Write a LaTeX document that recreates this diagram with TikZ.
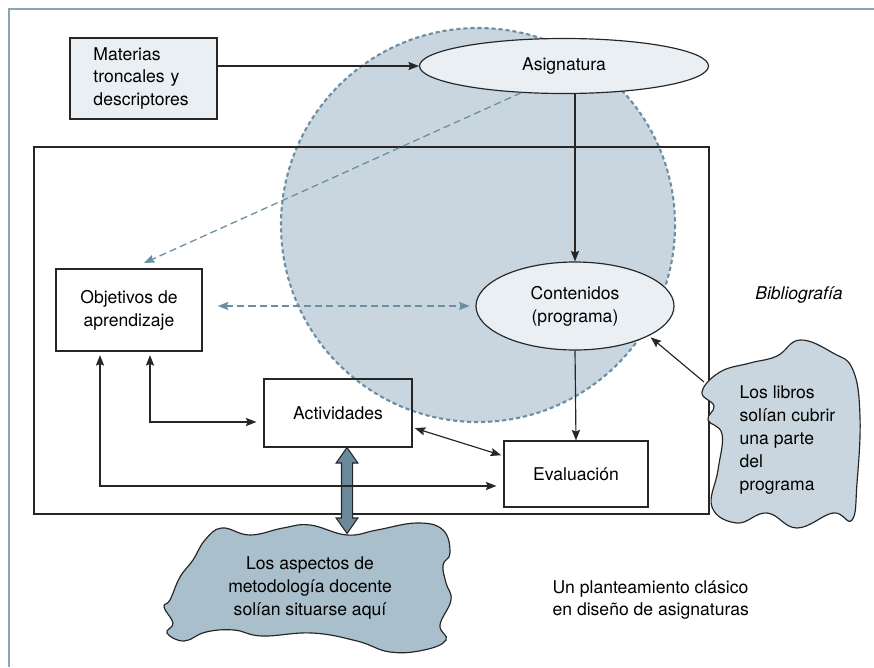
\documentclass[tikz,border=0pt]{standalone}
\usepackage{fontspec}
\setmainfont{TeX Gyre Heros}
\usepackage{tikz}
\usetikzlibrary{arrows.meta}
\usetikzlibrary{positioning}
\usetikzlibrary{shapes.geometric}
\usetikzlibrary{shapes.arrows}
\definecolor{frameblue}{HTML}{8AA5B5}
\definecolor{dashblue}{HTML}{6B8FA2}
\definecolor{circfill}{HTML}{C9D6DF}
\definecolor{paleblue}{HTML}{E9EFF3}
\definecolor{cloudfill}{HTML}{A9BFCB}
\definecolor{fatfill}{HTML}{6A8A9C}
\newcommand{\dfont}{\fontsize{15}{19.5}\selectfont}
\tikzset{
    block/.style={
           rectangle,
           draw=black!85, line width=1pt,
           inner sep=2pt,
           text centered,
           align=center,
           },
    oval/.style={
           ellipse,
           draw=black!85, line width=1pt,
           fill=paleblue,
           inner sep=0pt,
           align=center,
           },
    frameless/.style={
           inner sep=0pt,
           align=left,
           },
    cloud/.style={
           draw=black!85, line width=1pt,
           },
    fatarrow/.style={
           double arrow,
           draw=black!85, line width=0.9pt,
           fill=fatfill,
           inner xsep=0pt, inner ysep=0.15cm,
           double arrow head extend=0.16cm,
           double arrow tip angle=70,
           },
    dasharrow/.style={
           dashblue, line width=1.1pt,
           dash pattern=on 6pt off 3.5pt,
           },
}

\begin{document}
\begin{tikzpicture}[x=0.03cm, y=-0.03cm, font=\dfont, line width=1pt,
		>={Stealth[length=9pt, width=7pt, inset=1.5pt]}]
	\useasboundingbox (0,0) rectangle (874,667);
	
	\draw[frameblue, line width=1.4pt] (9,667) |- (874,9);
	
	\draw[dashblue, fill=circfill, line width=1.8pt, dash pattern=on 3.5pt off 2.5pt] (478,225) circle (197);
	
	\draw[black!85] (34,147) rectangle (709,514);
	
	\node[block, fill=paleblue, minimum width=4.41cm, minimum height=2.43cm, text width=3.0cm, align=left] (mat) at (143.5,78.5) {
		Materias\\troncales y\\descriptores
	};
	
	\node[oval, minimum width=8.67cm, minimum height=1.65cm] (asig) at (564,66) {Asignatura};
	
	\node[oval, minimum width=5.94cm, minimum height=2.64cm] (cont) at (575,306) {
		Contenidos\\(programa)
	};
	
	\node[block, minimum width=4.38cm, minimum height=2.46cm] (obj) at (129,310) {
		Objetivos de\\aprendizaje
	};
	
	\node[block, minimum width=4.44cm, minimum height=2.04cm] (act) at (338,413) {Actividades};
	\node[block, minimum width=4.32cm, minimum height=1.98cm] (eval) at (576,474) {Evaluación};
	
	\node[frameless, font=\dfont\itshape] (biblio) at (799,295) {Bibliografía};
	
	% nubes
	\draw[cloud, fill=circfill] plot[smooth cycle, tension=0.7] coordinates {
		(702,392) (714,406) (708,420) (722,434) (718,470) (712,507) (737,523)
		(767,513) (797,528) (833,513) (852,520) (857,483) (860,417) (853,370)
		(833,353) (800,340) (777,356) (750,363) (720,372)};
	\node[frameless, anchor=west] (books) at (739,440) {
		Los libros\\solían cubrir\\una parte\\del\\programa
	};
	\coordinate (bookstip) at (704,382);
	
	\draw[cloud, fill=cloudfill] plot[smooth cycle, tension=0.7] coordinates {
		(170,600) (164,607) (173,623) (167,633) (184,641) (206,632) (234,630)
		(262,636) (312,633) (357,641) (390,652) (424,650) (446,640) (440,625)
		(451,600) (446,583) (443,565) (450,553) (443,530) (417,523) (377,530)
		(347,535) (310,525) (283,528) (250,535) (222,528) (205,540) (193,560)
		(180,577)};
	\node[frameless, align=center] (metod) at (310,588) {
		Los aspectos de\\metodología docente\\solían situarse aquí
	};
	\coordinate (metodtop) at (347,534);
	
	\node[frameless, anchor=west] (clasico) at (552,600) {
		Un planteamiento clásico\\en diseño de asignaturas
	};
	
	\node[fatarrow, rotate=90, minimum height=2.58cm] (fat) at (347,490.5) {};
	
	\coordinate (objtip) at (144,263);
	
	\path[->, black!85]	(mat.east |- asig.west) edge (asig.west)
					(cont.north |- asig.south) edge (cont.north)
					(cont.south) edge (eval.north)
					(bookstip) edge[shorten >=2pt] (cont.-22);
	
	\path[<->, black!85]	(act.-11) edge[shorten <=2pt, shorten >=2pt] (eval.166);
	
	\draw[<->, black!85, shorten <=3pt, shorten >=6pt]
		([xshift=0.63cm]obj.south) |- ([yshift=-0.27cm]act.west);
	\draw[<->, black!85, shorten <=3pt, shorten >=6pt]
		([xshift=-0.87cm]obj.south) |- ([yshift=-0.36cm]eval.west);
	
	\draw[dasharrow, ->] (asig.212) -- (objtip);
	\draw[dasharrow, <->, shorten <=13pt, shorten >=5pt] (obj.east |- cont.west) -- (cont.west);

\end{tikzpicture}
\end{document}
